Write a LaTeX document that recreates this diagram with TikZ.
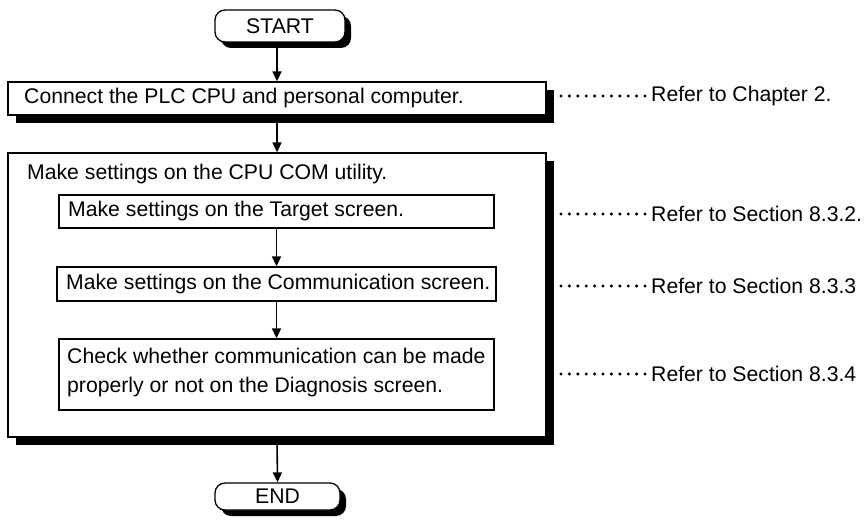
\documentclass[tikz,border=0pt]{standalone}
\usepackage{fontspec}
\setmainfont{Liberation Sans}
\usetikzlibrary{arrows.meta,shadows}
\begin{document}
\begin{tikzpicture}[x=1pt,y=-1pt,
  every node/.style={font=\fontsize{21.2}{29}\selectfont},
  shad/.style={drop shadow={shadow xshift=#1, shadow yshift=-#1, fill=black, opacity=1}},
  term/.style={draw, line width=1.3pt, fill=white, rounded corners=10pt, shad=6pt, inner sep=0pt, align=center},
  outerbox/.style={draw, line width=1.3pt, fill=white, shad=8pt, inner sep=0pt},
  innerbox/.style={draw, line width=1.3pt, fill=white, inner sep=0pt},
  txt/.style={anchor=west, inner sep=0pt, align=left},
  arr/.style={line width=1.6pt, -{Triangle[length=10pt,width=9pt]}},
  leader/.style={line width=3.4pt, line cap=round, dash pattern=on 0pt off 8.4pt, shorten >=5.5pt},
  ref/.style={anchor=west, inner sep=0pt}]
\useasboundingbox (0,0) rectangle (865,524);

% terminals
\node[term, minimum width=130pt, minimum height=32pt] (start) at (280,26) {START};
\node[term, minimum width=125pt, minimum height=27pt] (end) at (277.5,496.5) {END};

% first step
\node[outerbox, minimum width=538pt, minimum height=33pt] (box1) at (277,98.5) {};
\node[txt] (t1) at (24,98.5) {Connect the PLC CPU and personal computer.};

% big box
\node[outerbox, minimum width=538pt, minimum height=284pt] (big) at (277,295) {};
\node[txt] (title) at (27,174) {Make settings on the CPU COM utility.};

% inner steps
\node[innerbox, minimum width=435pt, minimum height=33pt] (ib1) at (276.5,211.5) {};
\node[txt] (t2) at (68,211.5) {Make settings on the Target screen.};
\node[innerbox, minimum width=439pt, minimum height=34pt] (ib2) at (276.5,284) {};
\node[txt] (t3) at (66,284) {Make settings on the Communication screen.};
\node[innerbox, minimum width=435pt, minimum height=71pt] (ib3) at (276.5,374.5) {};
\node[txt] (t4) at (67,373) {Check whether communication can be made\\properly or not on the Diagnosis screen.};

% connectors
\draw[arr] (box1.north |- start.south) -- (box1.north);
\draw[arr] (box1.south) -- (big.north);
\draw[arr] (ib1.south) -- (ib2.north);
\draw[arr] (ib2.south) -- (ib3.north);
\draw[arr] (big.south) -- (end.north);

% references
\node[ref] (r1) at (651,96) {Refer to Chapter 2.};
\node[ref] (r2) at (651,214) {Refer to Section 8.3.2.};
\node[ref] (r3) at (651,286) {Refer to Section 8.3.3};
\node[ref] (r4) at (651,374) {Refer to Section 8.3.4};
\coordinate (d1) at (561,96);
\coordinate (d2) at (561,214);
\coordinate (d3) at (561,286);
\coordinate (d4) at (561,374);
\draw[leader] (d1) -- (r1.west);
\draw[leader] (d2) -- (r2.west);
\draw[leader] (d3) -- (r3.west);
\draw[leader] (d4) -- (r4.west);
\end{tikzpicture}
\end{document}
